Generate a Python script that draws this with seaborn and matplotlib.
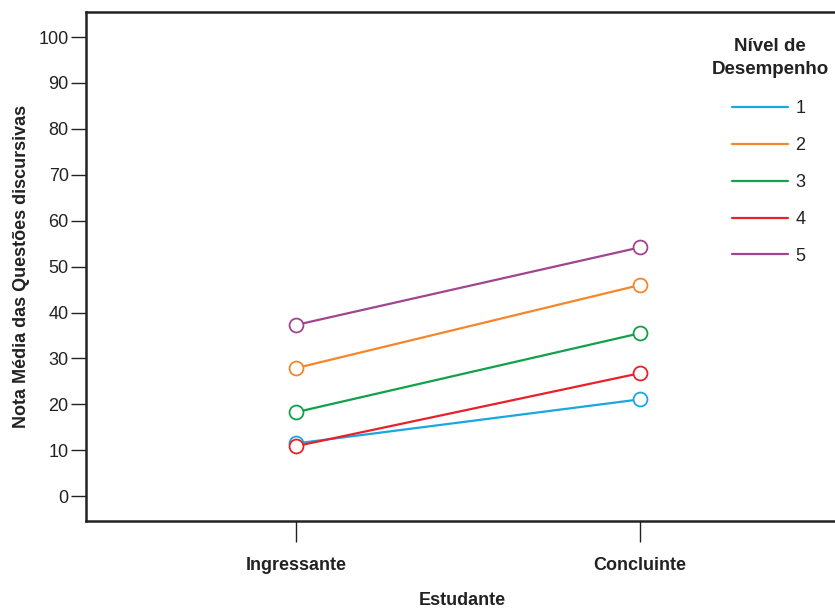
import matplotlib
matplotlib.use("Agg")
import matplotlib.pyplot as plt
from matplotlib.lines import Line2D
import seaborn as sns
import pandas as pd

categories = ["Ingressante", "Concluinte"]
levels = ["1", "2", "3", "4", "5"]
ingressante = [11.5, 27.9, 18.3, 10.9, 37.3]
concluinte = [21.1, 46.0, 35.5, 26.8, 54.2]
colors = ["#1aa7e0", "#f5862a", "#11a04b", "#e8202a", "#a0458f"]
yticks = [0, 10, 20, 30, 40, 50, 60, 70, 80, 90, 100]

rows = []
for lv, a, b in zip(levels, ingressante, concluinte):
    rows.append({"Estudante": categories[0], "Nivel": lv, "Nota": a})
    rows.append({"Estudante": categories[1], "Nivel": lv, "Nota": b})
df = pd.DataFrame(rows)

sns.set_theme(style="white")
plt.rcParams["font.family"] = ["Liberation Sans Narrow", "Liberation Sans", "DejaVu Sans"]

W, H = 835, 613
fig = plt.figure(figsize=(W / 100, H / 100), dpi=100)
ax = fig.add_axes([0.103, 0.150, 0.902, 0.830])

sns.lineplot(data=df, x="Estudante", y="Nota", hue="Nivel", palette=colors,
             hue_order=levels, sort=False, marker="o", markersize=10,
             markerfacecolor="white", markeredgewidth=1.3, linewidth=1.6,
             legend=False, ax=ax)
for line, c in zip(ax.get_lines(), colors):
    line.set_markeredgecolor(c)

ax.set_xlim(-0.61, 1.579)
ax.set_ylim(-5.4, 105.4)
ax.set_yticks(yticks)
ax.set_yticklabels([str(t) for t in yticks], fontsize=13)
ax.set_xticks([0, 1])
ax.set_xticklabels(categories, fontsize=13, fontweight="bold")
ax.tick_params(axis="y", left=True, direction="out", length=11, width=1, color="#222222", pad=1.5, labelcolor="#222222")
ax.tick_params(axis="x", bottom=True, direction="out", length=15, width=1, color="#222222", pad=11, labelcolor="#222222")
for s in ["left", "bottom", "top"]:
    ax.spines[s].set_visible(True)
    ax.spines[s].set_color("#222222")
    ax.spines[s].set_linewidth(1.8)
ax.spines["right"].set_visible(False)

ax.set_xlabel("Estudante", fontsize=13, fontweight="bold", labelpad=13, color="#222222")
ax.set_ylabel("Nota Média das Questões discursivas", fontsize=13, fontweight="bold", labelpad=6, color="#222222")

fig.text(770 / W, 1 - 58 / H, "Nível de\nDesempenho", ha="center", va="center",
         fontsize=13.5, fontweight="bold", color="#222222", linespacing=1.5)

handles = [Line2D([0], [0], color=c, linewidth=1.6) for c in colors]
leg = ax.legend(handles, levels, frameon=False,
                loc="upper left", bbox_to_anchor=(716 / W, 1 - 84 / H),
                bbox_transform=fig.transFigure, fontsize=13,
                handlelength=3.1, labelspacing=1.1, handletextpad=0.4)
for t in leg.get_texts():
    t.set_color("#222222")

fig.savefig("out.png", dpi=100)
